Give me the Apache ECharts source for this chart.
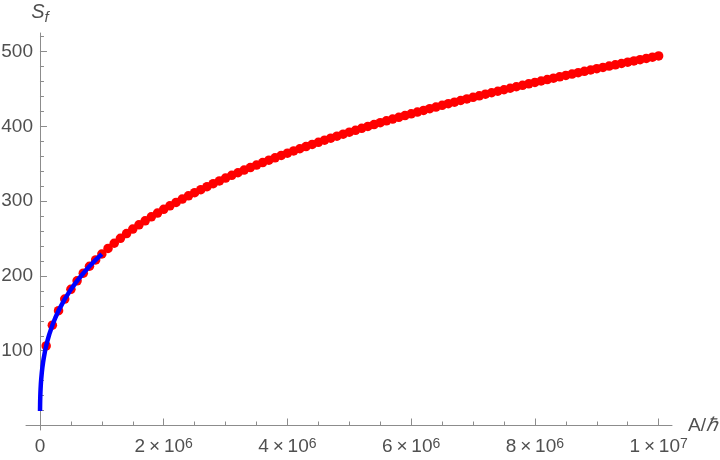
<!DOCTYPE html>
<html>
<head>
<meta charset="utf-8">
<script src="https://cdn.jsdelivr.net/npm/echarts@6/dist/echarts.min.js"></script>
<style>
  html, body { margin: 0; padding: 0; background: #fff; }
  #chart { width: 720px; height: 460px; }
</style>
</head>
<body>
<div id="chart"></div>
<script>
// A/hbar is kept in units of 1e6, labels add the power of ten back
var pointX = [
  0.1, 0.2, 0.3, 0.4, 0.5, 0.6, 0.7, 0.8, 0.9, 1.0,
  1.1, 1.2, 1.3, 1.4, 1.5, 1.6, 1.7, 1.8, 1.9, 2.0,
  2.1, 2.2, 2.3, 2.4, 2.5, 2.6, 2.7, 2.8, 2.9, 3.0,
  3.1, 3.2, 3.3, 3.4, 3.5, 3.6, 3.7, 3.8, 3.9, 4.0,
  4.1, 4.2, 4.3, 4.4, 4.5, 4.6, 4.7, 4.8, 4.9, 5.0,
  5.1, 5.2, 5.3, 5.4, 5.5, 5.6, 5.7, 5.8, 5.9, 6.0,
  6.1, 6.2, 6.3, 6.4, 6.5, 6.6, 6.7, 6.8, 6.9, 7.0,
  7.1, 7.2, 7.3, 7.4, 7.5, 7.6, 7.7, 7.8, 7.9, 8.0,
  8.1, 8.2, 8.3, 8.4, 8.5, 8.6, 8.7, 8.8, 8.9, 9.0,
  9.1, 9.2, 9.3, 9.4, 9.5, 9.6, 9.7, 9.8, 9.9, 10.0
]
var pointY = [
  106.5, 134.2, 153.6, 169.1, 182.1, 193.5, 203.7, 213.0, 221.5, 229.4,
  236.9, 243.8, 250.4, 256.7, 262.7, 268.4, 273.8, 279.1, 284.2, 289.1,
  293.8, 298.4, 302.9, 307.2, 311.4, 315.5, 319.5, 323.4, 327.2, 330.9,
  334.6, 338.1, 341.6, 345.0, 348.4, 351.7, 354.9, 358.1, 361.2, 364.2,
  367.2, 370.2, 373.1, 376.0, 378.8, 381.6, 384.3, 387.0, 389.7, 392.3,
  394.9, 397.5, 400.0, 402.5, 405.0, 407.5, 409.9, 412.2, 414.6, 416.9,
  419.2, 421.5, 423.8, 426.0, 428.2, 430.4, 432.5, 434.7, 436.8, 438.9,
  441.0, 443.1, 445.1, 447.1, 449.1, 451.1, 453.1, 455.0, 457.0, 458.9,
  460.8, 462.7, 464.6, 466.4, 468.3, 470.1, 471.9, 473.7, 475.5, 477.3,
  479.0, 480.8, 482.5, 484.2, 486.0, 487.7, 489.3, 491.0, 492.7, 494.3
]
var curveX = [0.0006, 0.001, 0.002, 0.003, 0.005, 0.0075, 0.01, 0.015, 0.02, 0.03,
  0.04, 0.05, 0.06, 0.08, 0.1, 0.125, 0.15, 0.2, 0.25, 0.3,
  0.4, 0.5, 0.6, 0.7, 0.8, 0.9, 1.0]
var curveY = [19.3, 22.9, 28.9, 33.1, 39.2, 44.9, 49.4, 56.6, 62.3, 71.3,
  78.5, 84.5, 89.8, 98.8, 106.5, 114.7, 121.9, 134.2, 144.5, 153.6,
  169.0, 182.1, 193.5, 203.7, 213.0, 221.5, 229.4]

var xLabelValues = [0, 2, 4, 6, 8, 10]
var xMinorTicks = [0.5, 1, 1.5, 2, 2.5, 3, 3.5, 4, 4.5, 5, 5.5, 6, 6.5, 7, 7.5, 8, 8.5, 9, 9.5, 10]
var yLabelValues = [100, 200, 300, 400, 500]
var yMinorTicks = [20, 40, 60, 80, 100, 120, 140, 160, 180, 200, 220, 240, 260,
  280, 300, 320, 340, 360, 380, 400, 420, 440, 460, 480, 500, 520]

var axisGray = '#8c8c8c'
var textGray = '#505050'
var font = 'Liberation Sans'

var myChart = echarts.init(document.getElementById('chart'))

//x轴标签 2×10^6
function xLabel (v) {
  if (v === 0) return '0'
  if (v >= 10) return (v / 10) + '\u2009×\u200910{sup|7}'
  return v + '\u2009×\u200910{sup|6}'
}

var xBase = {
  type: 'value',
  min: -0.226,
  max: 10.216,
  gridIndex: 0,
  position: 'bottom',
  splitLine: { show: false }
}
var yBase = {
  type: 'value',
  min: -6,
  max: 525,
  gridIndex: 0,
  position: 'left',
  splitLine: { show: false }
}

var option = {
  animation: false,
  backgroundColor: '#fff',
  grid: {
    left: 26,
    right: 48,
    top: 33,
    bottom: 30,
    containLabel: false,
    outerBoundsMode: 'none'
  },
  xAxis: [
    Object.assign({}, xBase, {
      name: '{a|A/}{h|ℏ}',
      nameLocation: 'end',
      nameGap: 16,
      nameMoveOverlap: false,
      nameTextStyle: {
        color: textGray,
        fontFamily: font,
        fontSize: 19,
        rich: {
          a: { fontSize: 19, color: textGray, fontFamily: font },
          h: { fontSize: 19, color: textGray, fontFamily: font, fontStyle: 'italic' }
        }
      },
      axisLine: { onZero: true, onZeroAxisIndex: 0, lineStyle: { color: axisGray, width: 1 } },
      axisTick: { show: true, inside: true, length: 4, customValues: xMinorTicks, lineStyle: { color: axisGray } },
      axisLabel: {
        show: true,
        customValues: xLabelValues,
        margin: 7,
        hideOverlap: false,
        color: textGray,
        fontFamily: font,
        fontSize: 19,
        formatter: xLabel,
        rich: {
          sup: { fontSize: 14, color: textGray, fontFamily: font, verticalAlign: 'top', lineHeight: 13 }
        }
      }
    }),
    Object.assign({}, xBase, {
      axisLine: { show: false, onZero: true, onZeroAxisIndex: 0 },
      axisTick: { show: true, inside: true, length: 7, customValues: xLabelValues, lineStyle: { color: axisGray } },
      axisLabel: { show: false }
    })
  ],
  yAxis: [
    Object.assign({}, yBase, {
      name: '{s|S}{f|f}',
      nameLocation: 'end',
      nameGap: 8,
      nameMoveOverlap: false,
      nameTextStyle: {
        color: textGray,
        fontFamily: font,
        fontSize: 20,
        rich: {
          s: { fontSize: 20, color: textGray, fontFamily: font, fontStyle: 'italic', lineHeight: 26 },
          f: { fontSize: 15, color: textGray, fontFamily: font, fontStyle: 'italic', lineHeight: 15, verticalAlign: 'bottom' }
        }
      },
      axisLine: { onZero: true, onZeroAxisIndex: 0, lineStyle: { color: axisGray, width: 1 } },
      axisTick: { show: true, inside: true, length: 4, customValues: yMinorTicks, lineStyle: { color: axisGray } },
      axisLabel: {
        show: true,
        customValues: yLabelValues,
        // labels sit on the grid edge, not on the zero line, so pull them right
        margin: -7,
        hideOverlap: false,
        color: textGray,
        fontFamily: font,
        fontSize: 19
      }
    }),
    Object.assign({}, yBase, {
      axisLine: { show: false, onZero: true, onZeroAxisIndex: 0 },
      axisTick: { show: true, inside: true, length: 7, customValues: yLabelValues, lineStyle: { color: axisGray } },
      axisLabel: { show: false }
    })
  ],
  series: [
    {
      name: 'points',
      type: 'scatter',
      xAxisIndex: 0,
      yAxisIndex: 0,
      symbol: 'circle',
      symbolSize: 9.5,
      itemStyle: { color: '#ff0000', opacity: 1 },
      z: 2,
      data: pointX.map(function (x, i) { return [x, pointY[i]] })
    },
    {
      name: 'fit',
      type: 'line',
      xAxisIndex: 0,
      yAxisIndex: 0,
      showSymbol: false,
      smooth: false,
      lineStyle: { color: '#0000ff', width: 4.5 },
      z: 3,
      data: curveX.map(function (x, i) { return [x, curveY[i]] })
    }
  ]
}
myChart.setOption(option, true)
</script>
</body>
</html>
